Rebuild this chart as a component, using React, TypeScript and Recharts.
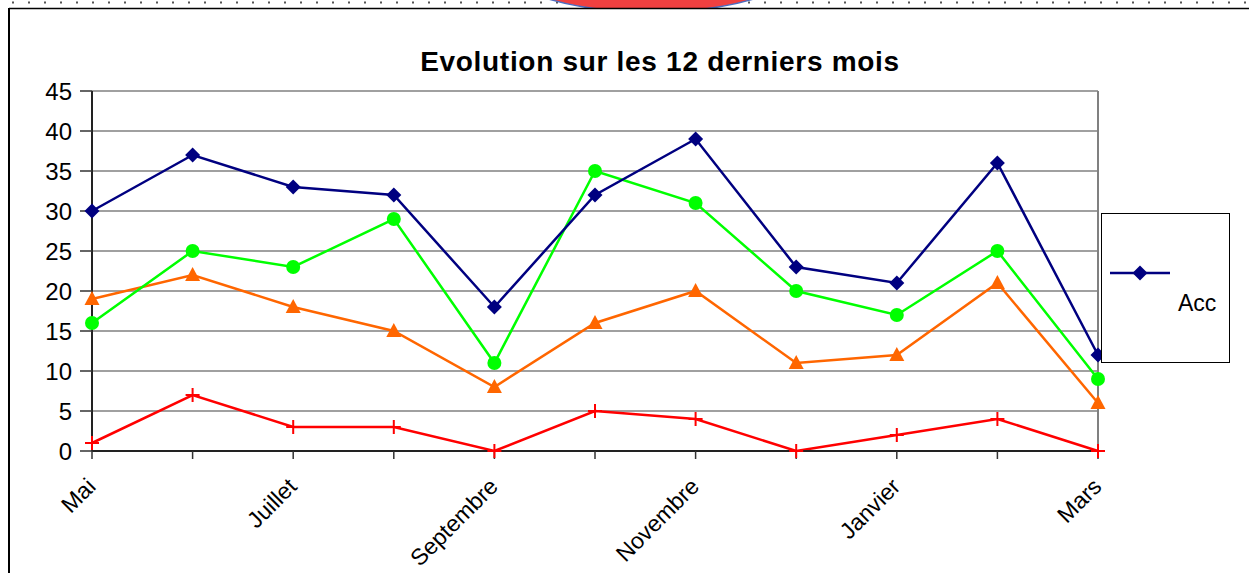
import { CartesianGrid, Line, LineChart, ReferenceLine, XAxis, YAxis } from "recharts";

const months = [
  "Mai",
  "Juin",
  "Juillet",
  "Août",
  "Septembre",
  "Octobre",
  "Novembre",
  "Décembre",
  "Janvier",
  "Février",
  "Mars",
];
const accValues = [30, 37, 33, 32, 18, 32, 39, 23, 21, 36, 12];
const greenValues = [16, 25, 23, 29, 11, 35, 31, 20, 17, 25, 9];
const orangeValues = [19, 22, 18, 15, 8, 16, 20, 11, 12, 21, 6];
const redValues = [1, 7, 3, 3, 0, 5, 4, 0, 2, 4, 0];
const yTicks = [0, 5, 10, 15, 20, 25, 30, 35, 40, 45];

const data = months.map((m, i) => ({
  month: m,
  acc: accValues[i],
  green: greenValues[i],
  orange: orangeValues[i],
  red: redValues[i],
}));

const FONT = "'Liberation Sans', Arial, sans-serif";

const Diamond = (props: any) => {
  const { cx, cy, index } = props;
  if (cx == null || cy == null) return <g key={index} />;
  const s = 7.5;
  return (
    <path
      key={index}
      d={`M${cx},${cy - s} L${cx + s},${cy} L${cx},${cy + s} L${cx - s},${cy} Z`}
      fill="#000080"
    />
  );
};

const Circle = (props: any) => {
  const { cx, cy, index } = props;
  if (cx == null || cy == null) return <g key={index} />;
  return <circle key={index} cx={cx} cy={cy} r={7} fill="#00ff00" />;
};

const Triangle = (props: any) => {
  const { cx, cy, index } = props;
  if (cx == null || cy == null) return <g key={index} />;
  return (
    <path
      key={index}
      d={`M${cx},${cy - 8} L${cx + 7.5},${cy + 6} L${cx - 7.5},${cy + 6} Z`}
      fill="#ff6600"
    />
  );
};

const Plus = (props: any) => {
  const { cx, cy, index } = props;
  if (cx == null || cy == null) return <g key={index} />;
  return (
    <path
      key={index}
      d={`M${cx - 7},${cy} L${cx + 7},${cy} M${cx},${cy - 7} L${cx},${cy + 7}`}
      stroke="#ff0000"
      strokeWidth={2}
    />
  );
};

// only every second month gets a label, like the original sheet
const MonthTick = (props: any) => {
  const { x, y, payload } = props;
  const idx = payload?.index ?? props.index ?? 0;
  if (idx % 2 !== 0) return <g />;
  const ax = x + 5;
  const ay = y + 27;
  return (
    <text
      x={ax}
      y={ay}
      transform={`rotate(-45 ${ax} ${ay})`}
      textAnchor="end"
      fontFamily={FONT}
      fontSize={23}
      fill="#000"
    >
      {payload.value}
    </text>
  );
};

export default function App() {
  return (
    <div
      style={{
        position: "absolute",
        left: 0,
        top: 0,
        width: 1249,
        height: 573,
        background: "#fff",
        overflow: "hidden",
      }}
    >
      {/* page decoration above the chart frame */}
      <svg
        width={1249}
        height={12}
        style={{ position: "absolute", left: 0, top: 0 }}
      >
        <line
          x1={12}
          y1={2.5}
          x2={1249}
          y2={2.5}
          stroke="#555"
          strokeWidth={2}
          strokeDasharray="2 14"
        />
        <ellipse
          cx={651}
          cy={-40}
          rx={155}
          ry={52}
          fill="#f04040"
          stroke="#4a6cc0"
          strokeWidth={1.5}
        />
        <rect x={0} y={9} width={1249} height={4} fill="#fff" />
        <line x1={9} y1={8.5} x2={1249} y2={8.5} stroke="#000" strokeWidth={1.5} />
      </svg>
      <div
        style={{
          position: "absolute",
          left: 8,
          top: 8,
          width: 1.5,
          height: 565,
          background: "#000",
        }}
      />

      <LineChart
        width={1249}
        height={573}
        data={data}
        margin={{ top: 91, right: 151, bottom: 0, left: 0 }}
        style={{ position: "absolute", left: 0, top: 0 }}
      >
        <CartesianGrid vertical={false} stroke="#808080" strokeWidth={1.5} />
        <XAxis
          dataKey="month"
          interval={0}
          height={122}
          tickSize={8}
          tickLine={{ stroke: "#333", strokeWidth: 1.5 }}
          axisLine={{ stroke: "#222", strokeWidth: 2 }}
          tick={<MonthTick />}
        />
        <YAxis
          width={92}
          domain={[0, 45]}
          ticks={yTicks}
          interval={0}
          tickSize={12}
          tickMargin={8}
          tickLine={{ stroke: "#333", strokeWidth: 1.5 }}
          axisLine={{ stroke: "#222", strokeWidth: 2 }}
          tick={{ fontFamily: FONT, fontSize: 24, fill: "#000" }}
        />
        <ReferenceLine x="Mars" stroke="#808080" strokeWidth={2} />
        <Line
          dataKey="red"
          stroke="#ff0000"
          strokeWidth={2.5}
          dot={Plus}
          activeDot={false}
          isAnimationActive={false}
        />
        <Line
          dataKey="orange"
          stroke="#ff6600"
          strokeWidth={2.5}
          dot={Triangle}
          activeDot={false}
          isAnimationActive={false}
        />
        <Line
          dataKey="green"
          stroke="#00ff00"
          strokeWidth={2.5}
          dot={Circle}
          activeDot={false}
          isAnimationActive={false}
        />
        <Line
          dataKey="acc"
          name="Acc"
          stroke="#000080"
          strokeWidth={2.5}
          dot={Diamond}
          activeDot={false}
          isAnimationActive={false}
        />
      </LineChart>

      <div
        style={{
          position: "absolute",
          left: 0,
          top: 46,
          width: 1320,
          textAlign: "center",
          fontFamily: FONT,
          fontWeight: "bold",
          fontSize: 28,
          letterSpacing: 0.7,
          color: "#000",
        }}
      >
        Evolution sur les 12 derniers mois
      </div>

      <div
        style={{
          position: "absolute",
          left: 1101,
          top: 213,
          width: 127,
          height: 148,
          border: "1px solid #000",
          background: "#fff",
          fontFamily: FONT,
        }}
      >
        <svg width={70} height={20} style={{ position: "absolute", left: 6, top: 49 }}>
          <line x1={2} y1={10} x2={62} y2={10} stroke="#000080" strokeWidth={2.5} />
          <path d="M32,2.5 L39.5,10 L32,17.5 L24.5,10 Z" fill="#000080" />
        </svg>
        <div
          style={{
            position: "absolute",
            left: 76,
            top: 76,
            fontSize: 23,
            color: "#000",
          }}
        >
          Acc
        </div>
      </div>
    </div>
  );
}
